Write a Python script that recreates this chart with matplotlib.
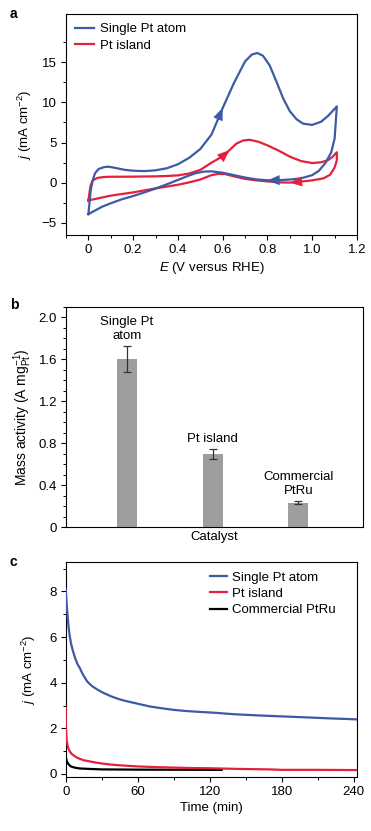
import matplotlib
matplotlib.use("Agg")
import matplotlib.pyplot as plt
from matplotlib.ticker import MultipleLocator, FixedLocator

plt.rcParams['font.family'] = ['Liberation Sans', 'DejaVu Sans']
plt.rcParams['mathtext.fontset'] = 'custom'
plt.rcParams['mathtext.rm'] = 'Liberation Sans'
plt.rcParams['mathtext.it'] = 'Liberation Sans:italic'
plt.rcParams['font.size'] = 9.5

BLUE = '#3d5aa6'
RED = '#e3213a'

# panel a: cyclic voltammograms (forward scan then reverse scan)
cv_single_E = [0.00, 0.005, 0.01, 0.02, 0.03, 0.045, 0.07, 0.09, 0.12, 0.16, 0.20, 0.25,
               0.30, 0.35, 0.40, 0.45, 0.50, 0.55, 0.60, 0.65, 0.70, 0.73, 0.755, 0.78,
               0.81, 0.84, 0.87, 0.90, 0.93, 0.96, 1.00, 1.04, 1.07, 1.09, 1.11,
               1.105, 1.10, 1.085, 1.06, 1.03, 1.00, 0.95, 0.90, 0.85, 0.80, 0.75, 0.70,
               0.65, 0.60, 0.55, 0.52, 0.48, 0.44, 0.40, 0.35, 0.30, 0.25, 0.20, 0.15,
               0.10, 0.06, 0.03, 0.00]
cv_single_j = [-3.9, -2.5, -1.0, 0.4, 1.2, 1.7, 1.95, 2.0, 1.85, 1.62, 1.5, 1.45,
               1.55, 1.8, 2.3, 3.1, 4.2, 6.0, 9.3, 12.4, 15.1, 15.95, 16.15, 15.8,
               14.6, 12.6, 10.5, 8.9, 7.9, 7.35, 7.2, 7.6, 8.3, 8.9, 9.5,
               7.5, 5.5, 3.8, 2.5, 1.5, 0.95, 0.55, 0.4, 0.32, 0.3, 0.42, 0.65,
               0.95, 1.25, 1.42, 1.4, 1.2, 0.8, 0.35, -0.2, -0.72, -1.2, -1.65, -2.05,
               -2.55, -3.0, -3.45, -3.9]

cv_island_E = [0.00, 0.005, 0.01, 0.02, 0.04, 0.07, 0.10, 0.15, 0.20, 0.25, 0.30, 0.35,
               0.40, 0.45, 0.50, 0.55, 0.60, 0.63, 0.66, 0.69, 0.72, 0.76, 0.80, 0.85,
               0.90, 0.95, 1.00, 1.04, 1.07, 1.09, 1.11,
               1.11, 1.10, 1.08, 1.05, 1.00, 0.95, 0.90, 0.85, 0.80, 0.75, 0.70, 0.65,
               0.61, 0.58, 0.55, 0.50, 0.45, 0.40, 0.35, 0.30, 0.25, 0.20, 0.15, 0.10,
               0.05, 0.00]
cv_island_j = [-2.2, -1.2, -0.3, 0.3, 0.6, 0.72, 0.75, 0.75, 0.76, 0.78, 0.8, 0.84,
               0.92, 1.15, 1.6, 2.5, 3.3, 4.05, 4.85, 5.25, 5.35, 5.1, 4.65, 4.0,
               3.25, 2.7, 2.45, 2.55, 2.8, 3.2, 3.8,
               2.8, 1.9, 1.0, 0.55, 0.3, 0.15, 0.02, 0.05, 0.17, 0.3, 0.48, 0.8,
               1.08, 1.1, 0.95, 0.4, 0.05, -0.25, -0.48, -0.7, -0.95, -1.2, -1.4, -1.6,
               -1.9, -2.2]

# indices on each curve where a direction arrow sits (head at the next point)
arrow_single = [17, 43]
arrow_island = [16, 36]

# panel b: mass activity
catalysts = ['Single Pt\natom', 'Pt island', 'Commercial\nPtRu']
mass_activity = [1.60, 0.695, 0.23]
mass_err = [0.125, 0.05, 0.015]

# panel c: chronoamperometry
t_single = [0, 0.5, 1.3, 2.2, 3.2, 4.5, 6, 8, 10, 12, 13, 15, 18, 22, 27, 32, 38, 45,
            50, 60, 70, 80, 90, 100, 112, 125, 140, 155, 168, 182, 196, 210, 223, 235, 243]
j_single = [8.1, 7.7, 7.1, 6.55, 6.1, 5.7, 5.4, 5.05, 4.8, 4.62, 4.5, 4.3, 4.05, 3.85,
            3.68, 3.54, 3.4, 3.27, 3.2, 3.08, 2.96, 2.88, 2.81, 2.76, 2.72, 2.68, 2.62,
            2.58, 2.55, 2.52, 2.49, 2.46, 2.43, 2.41, 2.39]
t_island = [0, 0.2, 0.5, 1, 2, 3.5, 5, 7.5, 10, 15, 20, 25, 30, 38, 45, 60, 75, 90, 105,
            120, 145, 170, 180, 210, 243]
j_island = [2.9, 2.1, 1.7, 1.4, 1.15, 0.98, 0.88, 0.78, 0.7, 0.6, 0.55, 0.5, 0.46, 0.41,
            0.38, 0.33, 0.3, 0.28, 0.26, 0.25, 0.22, 0.2, 0.18, 0.18, 0.17]
t_ptru = [0, 0.5, 1, 2, 4, 6, 9, 12, 20, 30, 45, 60, 90, 130]
j_ptru = [0.78, 0.65, 0.55, 0.45, 0.34, 0.3, 0.26, 0.24, 0.22, 0.2, 0.195, 0.19, 0.185, 0.18]


def style_ticks(ax):
    ax.tick_params(which='major', direction='out', length=3.5, width=0.8, pad=3,
                   top=False, right=False)
    ax.tick_params(which='minor', direction='out', length=2, width=0.7,
                   top=False, right=False)
    for s in ax.spines.values():
        s.set_linewidth(0.8)


def add_arrows(ax, xs, ys, idx_list, color):
    for i in idx_list:
        ax.annotate('', xy=(xs[i + 1], ys[i + 1]), xytext=(xs[i], ys[i]),
                    arrowprops=dict(arrowstyle='-|>,head_length=0.8,head_width=0.33',
                                    color=color, lw=0, mutation_scale=11,
                                    shrinkA=0, shrinkB=0))


fig = plt.figure(figsize=(3.71, 8.31), dpi=100)

# ---- panel a
ax1 = fig.add_axes([66 / 371, 1 - 235 / 831, 291 / 371, 221 / 831])
ax1.plot(cv_single_E, cv_single_j, color=BLUE, lw=1.6, label='Single Pt atom', zorder=3)
ax1.plot(cv_island_E, cv_island_j, color=RED, lw=1.6, label='Pt island', zorder=2)
add_arrows(ax1, cv_single_E, cv_single_j, arrow_single, BLUE)
add_arrows(ax1, cv_island_E, cv_island_j, arrow_island, RED)
ax1.set_xlim(-0.1, 1.2)
ax1.set_ylim(-6.5, 21)
ax1.set_xticks([0, 0.2, 0.4, 0.6, 0.8, 1.0, 1.2])
ax1.set_xticklabels(['0', '0.2', '0.4', '0.6', '0.8', '1.0', '1.2'])
ax1.xaxis.set_minor_locator(MultipleLocator(0.1))
ax1.set_yticks([-5, 0, 5, 10, 15])
ax1.yaxis.set_minor_locator(FixedLocator([-2.5, 2.5, 7.5, 12.5, 17.5]))
ax1.set_xlabel('$E$ (V versus RHE)', labelpad=3)
ax1.set_ylabel('$j$ (mA cm$^{-2}$)', labelpad=6)
style_ticks(ax1)
ax1.legend(loc='upper left', frameon=False, handlelength=1.4, handletextpad=0.5,
           borderaxespad=0.3, labelspacing=0.3, fontsize=9.5)

# ---- panel b
ax2 = fig.add_axes([66 / 371, 1 - 527 / 831, 297 / 371, 220 / 831])
xpos = list(range(len(catalysts)))
ax2.bar(xpos, mass_activity, width=0.235, color='#9c9ea0', zorder=2)
ax2.errorbar(xpos, mass_activity, yerr=mass_err, fmt='none', ecolor='#333333',
             elinewidth=0.9, capsize=3, capthick=0.9, zorder=3)
for x, v, e, name in zip(xpos, mass_activity, mass_err, catalysts):
    ax2.annotate(name, xy=(x, v + e), xytext=(0, 3), textcoords='offset points',
                 ha='center', va='bottom', fontsize=9.5, linespacing=1.25)
ax2.set_xlim(-0.71, 2.755)
ax2.set_ylim(0, 2.1)
ax2.set_xticks([])
ax2.set_yticks([0, 0.4, 0.8, 1.2, 1.6, 2.0])
ax2.set_yticklabels(['0', '0.4', '0.8', '1.2', '1.6', '2.0'])
ax2.yaxis.set_minor_locator(MultipleLocator(0.1))
ax2.set_xlabel('Catalyst', labelpad=3)
ax2.set_ylabel('Mass activity (A mg$_{\\mathrm{Pt}}^{-1}$)', labelpad=3, fontsize=10)
style_ticks(ax2)

# ---- panel c
ax3 = fig.add_axes([65.7 / 371, 1 - 776.7 / 831, 291.6 / 371, 214.4 / 831])
ax3.plot(t_ptru, j_ptru, color='black', lw=1.6, label='Commercial PtRu', zorder=2)
ax3.plot(t_island, j_island, color=RED, lw=1.6, label='Pt island', zorder=3)
ax3.plot(t_single, j_single, color=BLUE, lw=1.6, label='Single Pt atom', zorder=4)
ax3.set_xlim(0, 243)
ax3.set_ylim(-0.12, 9.28)
ax3.set_xticks([0, 60, 120, 180, 240])
ax3.xaxis.set_minor_locator(MultipleLocator(30))
ax3.set_yticks([0, 2, 4, 6, 8])
ax3.yaxis.set_minor_locator(MultipleLocator(1))
ax3.set_xlabel('Time (min)', labelpad=3)
ax3.set_ylabel('$j$ (mA cm$^{-2}$)', labelpad=8)
style_ticks(ax3)
h, l = ax3.get_legend_handles_labels()
ax3.legend(h[::-1], l[::-1], loc='upper right', bbox_to_anchor=(1 - 12 / 291.6, 1),
           frameon=False, handlelength=1.3, handletextpad=0.4, borderaxespad=0.3,
           labelspacing=0.3, fontsize=9.5)

for letter, ypx in [('a', 14), ('b', 305), ('c', 562)]:
    fig.text(10 / 371, 1 - ypx / 831, letter, fontsize=10, fontweight='bold',
             va='center', ha='left')

fig.savefig('out.png', dpi=100)
